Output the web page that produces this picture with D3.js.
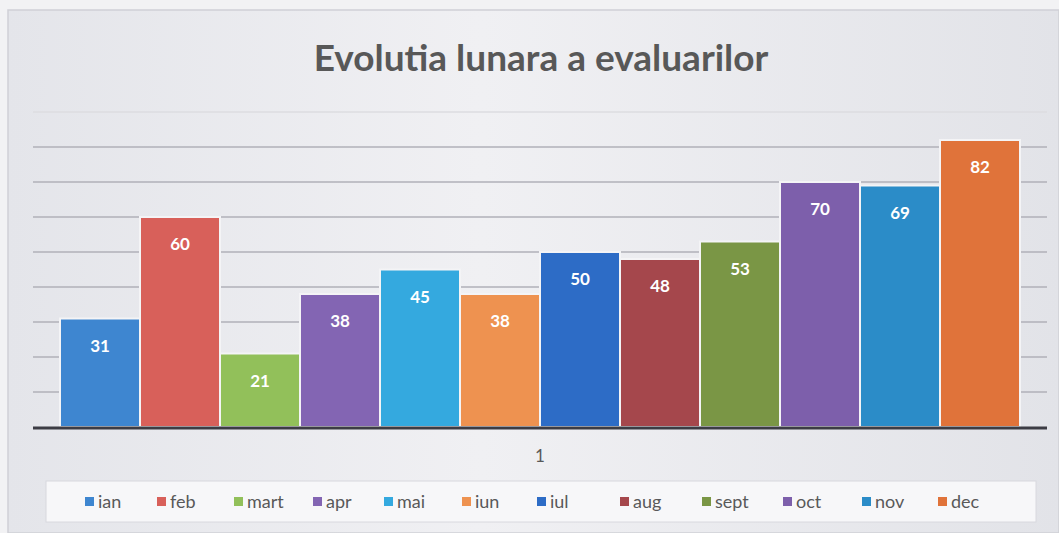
<!DOCTYPE html>
<html>
<head>
<meta charset="utf-8">
<script src="https://cdn.jsdelivr.net/npm/d3@7"></script>
<style>
  html, body { margin: 0; padding: 0; background: #f2f2f4; }
  svg { display: block; }
</style>
</head>
<body>
<script>
// data
var months = ["ian", "feb", "mart", "apr", "mai", "iun", "iul", "aug", "sept", "oct", "nov", "dec"];
var values = [31, 60, 21, 38, 45, 38, 50, 48, 53, 70, 69, 82];
var barColors = ["#3e86d0", "#d8605a", "#92c05a", "#8365b3", "#34a9df", "#ee9250",
                 "#2d6cc6", "#a5474c", "#7a9645", "#7d5fab", "#2b8cc8", "#e0733a"];
var gridTicks = [10, 20, 30, 40, 50, 60, 70, 80, 90];
var categoryLabel = "1";
var title = "Evolutia lunara a evaluarilor";

var W = 1059, H = 533;
var svg = d3.select("body").append("svg")
  .attr("width", W)
  .attr("height", H);

var defs = svg.append("defs");
var grad = defs.append("linearGradient").attr("id", "bg")
  .attr("x1", "0").attr("x2", "1").attr("y1", "0").attr("y2", "0");
grad.append("stop").attr("offset", "0").attr("stop-color", "#e4e5ea");
grad.append("stop").attr("offset", "0.45").attr("stop-color", "#f0f0f3");
grad.append("stop").attr("offset", "1").attr("stop-color", "#e2e3e8");

// chart area (scanned page)
svg.append("rect")
  .attr("x", 8).attr("y", 10)
  .attr("width", W - 8).attr("height", H - 10)
  .attr("fill", "url(#bg)")
  .attr("stroke", "#cfd0d6")
  .attr("stroke-width", 1.5);

svg.append("text")
  .attr("x", 541).attr("y", 71)
  .attr("text-anchor", "middle")
  .attr("font-family", "Lato, 'Open Sans', sans-serif")
  .attr("font-weight", "bold")
  .attr("font-size", 37)
  .attr("fill", "#585858")
  .text(title);

// scales
var x = d3.scaleBand().domain(months).range([60, 1020]).paddingInner(0).paddingOuter(0);
var y = d3.scaleLinear().domain([0, 90]).range([427, 112]);

// gridlines
svg.append("g").selectAll("line")
  .data(gridTicks)
  .enter()
  .append("line")
  .attr("x1", 33).attr("x2", 1047)
  .attr("y1", function(d){ return y(d); })
  .attr("y2", function(d){ return y(d); })
  .attr("stroke", function(d){ return d === 90 ? "#dcdce0" : "#b0b0b8"; })
  .attr("stroke-width", 1.5);

// bars
svg.append("g").selectAll("rect")
  .data(values)
  .enter()
  .append("rect")
  .attr("x", function(d, i){ return x(months[i]); })
  .attr("y", function(d){ return y(d); })
  .attr("width", x.bandwidth())
  .attr("height", function(d){ return y(0) - y(d); })
  .attr("fill", function(d, i){ return barColors[i]; })
  .attr("stroke", "#f4f4f6")
  .attr("stroke-width", 2);

// data labels
svg.append("g").selectAll("text")
  .data(values)
  .enter()
  .append("text")
  .attr("x", function(d, i){ return x(months[i]) + x.bandwidth() / 2; })
  .attr("y", function(d){ return y(d) + 33; })
  .attr("text-anchor", "middle")
  .attr("font-family", "Lato, 'Open Sans', sans-serif")
  .attr("font-weight", "bold")
  .attr("font-size", 17)
  .attr("fill", "#ffffff")
  .text(function(d){ return d; });

// axis baseline
svg.append("line")
  .attr("x1", 33).attr("x2", 1047)
  .attr("y1", y(0) + 1).attr("y2", y(0) + 1)
  .attr("stroke", "#3c3c44")
  .attr("stroke-width", 3);

svg.append("text")
  .attr("x", 540).attr("y", 462)
  .attr("text-anchor", "middle")
  .attr("font-family", "Lato, 'Open Sans', sans-serif")
  .attr("font-size", 17)
  .attr("fill", "#595959")
  .text(categoryLabel);

// legend
svg.append("rect")
  .attr("x", 46).attr("y", 481)
  .attr("width", 990).attr("height", 41)
  .attr("fill", "#f7f7f9")
  .attr("stroke", "#d8d8de");

var legendX = [85, 157, 234, 313, 384, 462, 537, 620, 702, 783, 862, 938];
var legend = svg.append("g").selectAll("g")
  .data(months)
  .enter()
  .append("g")
  .attr("transform", function(d, i){ return "translate(" + legendX[i] + ",502)"; });

legend.append("rect")
  .attr("x", 0).attr("y", -5)
  .attr("width", 9).attr("height", 9)
  .attr("fill", function(d, i){ return barColors[i]; });

legend.append("text")
  .attr("x", 13).attr("y", 6)
  .attr("font-family", "Lato, 'Open Sans', sans-serif")
  .attr("font-size", 18)
  .attr("fill", "#595959")
  .text(function(d){ return d; });
</script>
</body>
</html>
